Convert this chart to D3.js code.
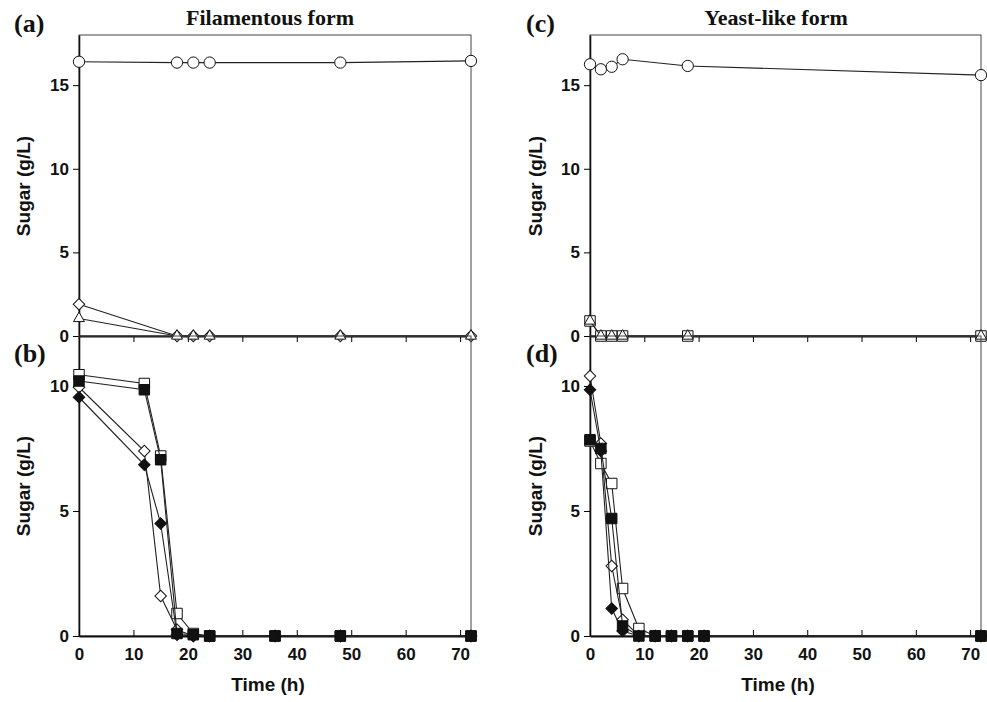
<!DOCTYPE html>
<html>
<head>
<meta charset="utf-8">
<script src="https://cdn.jsdelivr.net/npm/d3@7"></script>
<style>
  body { margin: 0; background: #fff; }
  .tick text { font-family: "Liberation Sans", Arial, sans-serif; font-weight: bold; font-size: 17px; fill: #111; }
  .axisTitle { font-family: "Liberation Sans", Arial, sans-serif; font-weight: bold; font-size: 19px; fill: #111; }
  .panelTitle { font-family: "Liberation Serif", "Times New Roman", serif; font-weight: bold; font-size: 22px; fill: #111; }
  .panelLetter { font-family: "Liberation Serif", "Times New Roman", serif; font-weight: bold; font-size: 26px; fill: #111; }
</style>
</head>
<body>
<div id="chart"></div>
<script>
// panel (a) filamentous, glucose + minor sugars
var timeA = [0, 18, 21, 24, 48, 72];
var aCircle = [16.4, 16.35, 16.35, 16.35, 16.35, 16.45];
var aDiamond = [1.9, 0, 0, 0, 0, 0];
var aTriangle = [1.05, 0, 0, 0, 0, 0];

// panel (b) filamentous
var timeB = [0, 12, 15, 18, 21, 24, 36, 48, 72];
var bOpenSq = [10.45, 10.1, 7.2, 0.9, 0.1, 0, 0, 0, 0];
var bFillSq = [10.2, 9.85, 7.05, 0.1, 0.05, 0, 0, 0, 0];
var bOpenDia = [9.95, 7.4, 1.6, 0.25, 0, 0, 0, 0, 0];
var bFillDia = [9.55, 6.85, 4.5, 0.05, 0, 0, 0, 0, 0];

// panel (c) yeast-like
var timeC = [0, 2, 4, 6, 18, 72];
var cCircle = [16.25, 15.95, 16.1, 16.55, 16.15, 15.6];
var cSquare = [0.9, 0, 0, 0, 0, 0];
var cTriangle = [0.9, 0, 0, 0, 0, 0];

// panel (d) yeast-like
var timeD = [0, 2, 4, 6, 9, 12, 15, 18, 21, 72];
var dOpenDia = [10.4, 7.7, 2.8, 0.65, 0, 0, 0, 0, 0, 0];
var dFillDia = [9.85, 7.4, 1.1, 0.2, 0, 0, 0, 0, 0, 0];
var dOpenSq = [7.8, 6.9, 6.1, 1.9, 0.3, 0, 0, 0, 0, 0];
var dFillSq = [7.85, 7.5, 4.7, 0.4, 0, 0, 0, 0, 0, 0];

var xTicks = [0, 10, 20, 30, 40, 50, 60, 70];
var yTicksTop = [0, 5, 10, 15];
var yTicksBottom = [0, 5, 10];

var svgWidth = 987;
var svgHeight = 702;

var svg = d3.select("#chart")
  .append("svg")
  .attr("width", svgWidth)
  .attr("height", svgHeight);

var xLeft = d3.scaleLinear().domain([0, 72]).range([79, 471]);
var xRight = d3.scaleLinear().domain([0, 72]).range([590, 981]);
var yTop = d3.scaleLinear().domain([0, 18]).range([336, 35]);
var yBottom = d3.scaleLinear().domain([0, 12]).range([636, 336]);

var shapes = {
  circle: d3.symbol().type(d3.symbolCircle).size(100),
  square: d3.symbol().type(d3.symbolSquare).size(110),
  diamond: d3.symbol().type(d3.symbolSquare).size(66),
  triangle: d3.symbol().type(d3.symbolTriangle).size(52)
};

function drawPanel(x, y, yTicks, bottom) {
  var g = svg.append("g");

  // frame
  g.append("rect")
    .attr("x", x.range()[0])
    .attr("y", y.range()[1])
    .attr("width", x.range()[1] - x.range()[0])
    .attr("height", y.range()[0] - y.range()[1])
    .attr("fill", "none")
    .attr("stroke", "#444")
    .attr("stroke-width", 1);

  var leftAxis = d3.axisLeft(y).tickValues(yTicks).tickSize(6).tickSizeOuter(0).tickPadding(4);
  g.append("g")
    .attr("transform", `translate(${x.range()[0]}, 0)`)
    .call(leftAxis)
    .call(a => a.select(".domain").attr("stroke", "#111").attr("stroke-width", 1.6));

  var bottomAxis;
  if (bottom) {
    bottomAxis = d3.axisBottom(x).tickValues(xTicks).tickSize(-6).tickSizeOuter(0).tickPadding(12);
  } else {
    bottomAxis = d3.axisBottom(x).tickValues(xTicks.slice(1)).tickSize(6).tickSizeOuter(0).tickFormat("");
  }
  g.append("g")
    .attr("transform", `translate(0, ${y(0)})`)
    .call(bottomAxis)
    .call(a => a.select(".domain").attr("stroke", "#111").attr("stroke-width", 2.2));

  return g;
}

function drawSeries(g, x, y, times, values, shape, filled, rotate) {
  var pts = times.map((t, i) => ({ t: t, v: values[i] }));
  var line = d3.line().x(d => x(d.t)).y(d => y(d.v));
  g.append("path")
    .datum(pts)
    .attr("d", line)
    .attr("fill", "none")
    .attr("stroke", "#222")
    .attr("stroke-width", 1.1);
  g.selectAll(null)
    .data(pts)
    .enter()
    .append("path")
    .attr("d", shapes[shape])
    .attr("transform", d => `translate(${x(d.t)}, ${y(d.v)})` + (rotate ? " rotate(45)" : ""))
    .attr("fill", filled ? "#111" : "#fff")
    .attr("stroke", "#111")
    .attr("stroke-width", 1);
}

// (a)
var gA = drawPanel(xLeft, yTop, yTicksTop, false);
drawSeries(gA, xLeft, yTop, timeA, aCircle, "circle", false, false);
drawSeries(gA, xLeft, yTop, timeA, aDiamond, "diamond", false, true);
drawSeries(gA, xLeft, yTop, timeA, aTriangle, "triangle", false, false);

// (b)
var gB = drawPanel(xLeft, yBottom, yTicksBottom, true);
drawSeries(gB, xLeft, yBottom, timeB, bOpenDia, "diamond", false, true);
drawSeries(gB, xLeft, yBottom, timeB, bOpenSq, "square", false, false);
drawSeries(gB, xLeft, yBottom, timeB, bFillDia, "diamond", true, true);
drawSeries(gB, xLeft, yBottom, timeB, bFillSq, "square", true, false);

// (c)
var gC = drawPanel(xRight, yTop, yTicksTop, false);
drawSeries(gC, xRight, yTop, timeC, cCircle, "circle", false, false);
drawSeries(gC, xRight, yTop, timeC, cSquare, "square", false, false);
drawSeries(gC, xRight, yTop, timeC, cTriangle, "triangle", false, false);

// (d)
var gD = drawPanel(xRight, yBottom, yTicksBottom, true);
drawSeries(gD, xRight, yBottom, timeD, dOpenDia, "diamond", false, true);
drawSeries(gD, xRight, yBottom, timeD, dOpenSq, "square", false, false);
drawSeries(gD, xRight, yBottom, timeD, dFillDia, "diamond", true, true);
drawSeries(gD, xRight, yBottom, timeD, dFillSq, "square", true, false);

// titles and labels
svg.append("text").attr("class", "panelTitle").attr("x", 270).attr("y", 25).attr("text-anchor", "middle").text("Filamentous form");
svg.append("text").attr("class", "panelTitle").attr("x", 776).attr("y", 25).attr("text-anchor", "middle").text("Yeast-like form");

svg.append("text").attr("class", "panelLetter").attr("x", 14).attr("y", 32).text("(a)");
svg.append("text").attr("class", "panelLetter").attr("x", 14).attr("y", 362).text("(b)");
svg.append("text").attr("class", "panelLetter").attr("x", 526).attr("y", 32).text("(c)");
svg.append("text").attr("class", "panelLetter").attr("x", 526).attr("y", 362).text("(d)");

[[30, 186], [30, 486], [542, 186], [542, 486]].forEach(function(p) {
  svg.append("text")
    .attr("class", "axisTitle")
    .attr("transform", `translate(${p[0]}, ${p[1]}) rotate(-90)`)
    .attr("text-anchor", "middle")
    .text("Sugar (g/L)");
});

svg.append("text").attr("class", "axisTitle").attr("x", 268).attr("y", 691).attr("text-anchor", "middle").text("Time (h)");
svg.append("text").attr("class", "axisTitle").attr("x", 778).attr("y", 691).attr("text-anchor", "middle").text("Time (h)");
</script>
</body>
</html>
